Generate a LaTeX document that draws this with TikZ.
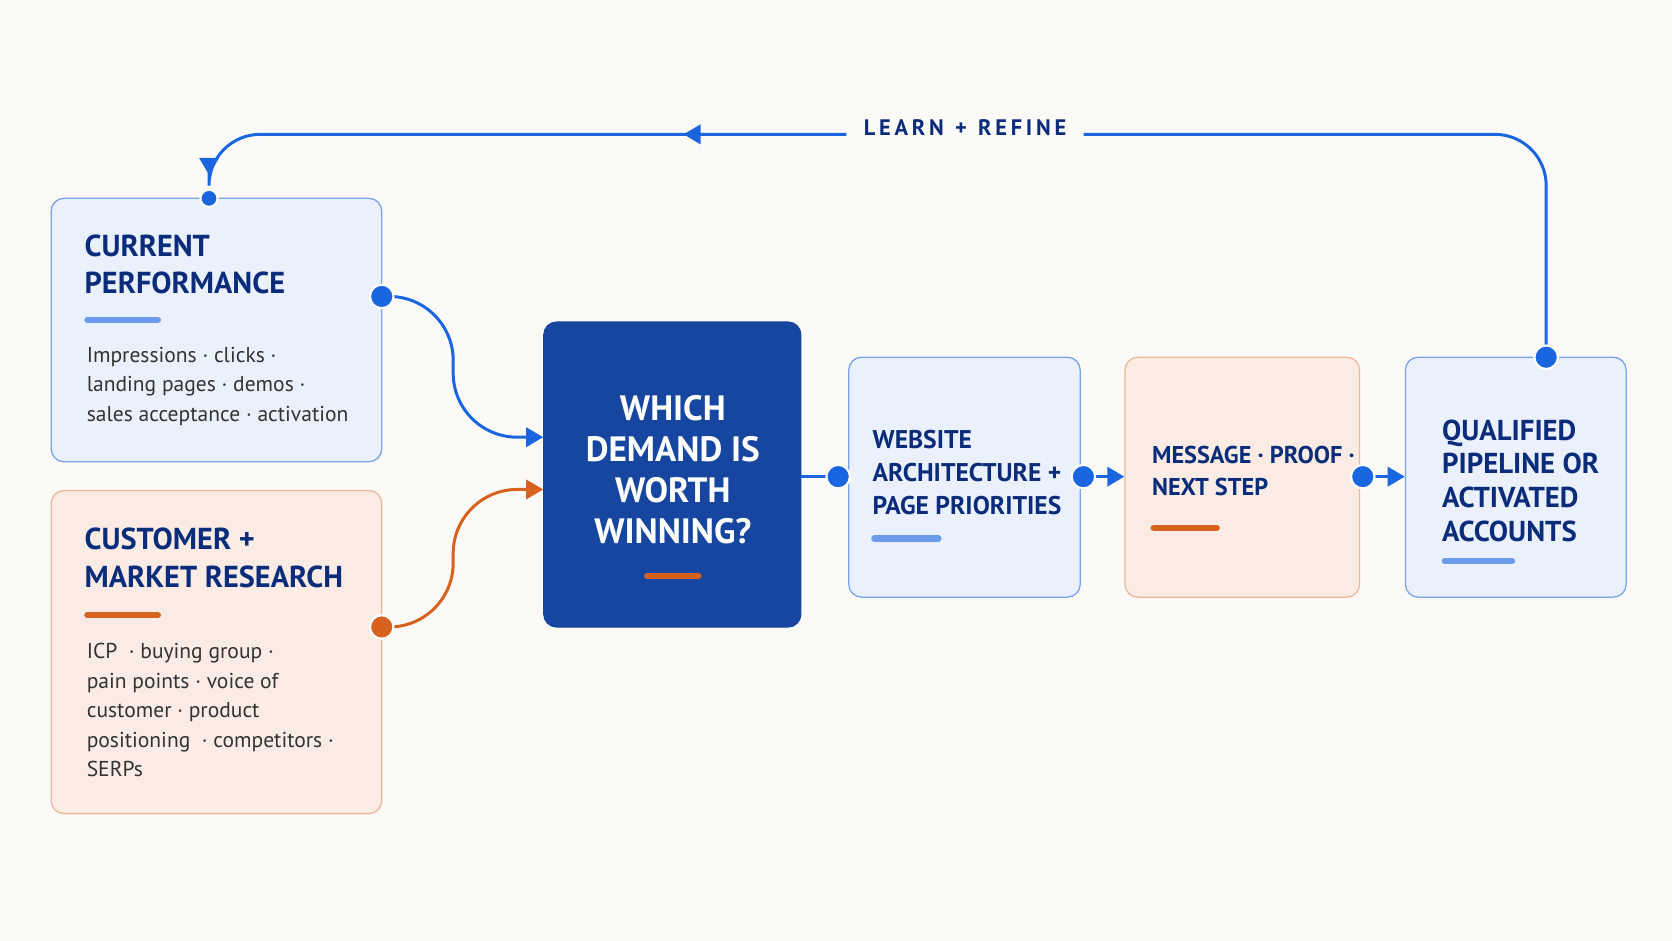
\documentclass[tikz,border=0pt]{standalone}
\usepackage{fontspec}
\setmainfont{PT Sans}
\usetikzlibrary{arrows.meta}
\definecolor{bgcolor}{HTML}{FCFAF6}
\definecolor{flowcolor}{HTML}{1A66E0}
\definecolor{headcolor}{HTML}{0B2C7A}
\definecolor{demandcolor}{HTML}{1646A0}
\definecolor{researchcolor}{HTML}{D6621E}
\colorlet{bluefill}{flowcolor!9}
\colorlet{blueborder}{flowcolor!60}
\colorlet{orangefill}{researchcolor!12}
\colorlet{orangeborder}{researchcolor!45}
\colorlet{bodycolor}{black!80}
\tikzset{boxbase/.style 2 args={shape=rectangle, rounded corners=6pt, semithick, minimum width=#1, minimum height=#2, inner sep=0pt},%
    bluebox/.style 2 args={boxbase={#1}{#2}, fill=bluefill, draw=blueborder},%
    orangebox/.style 2 args={boxbase={#1}{#2}, fill=orangefill, draw=orangeborder},%
    demandbox/.style 2 args={boxbase={#1}{#2}, fill=demandcolor, draw=demandcolor},%
    head/.style={anchor=north west, inner sep=0pt, align=left, text=headcolor, font=\bfseries},%
    body/.style={anchor=north west, inner sep=0pt, align=left, text=bodycolor, font=\fontsize{10.1}{13.8}\selectfont},%
    bar/.style={line width=3pt, line cap=round},%
    flow/.style={line width=1.4pt, color=flowcolor, rounded corners=14pt},%
    dot/.style={fill=#1, draw=white, line width=1pt}%
}
\begin{document}
\begin{tikzpicture}[x=0.5pt, y=-0.5pt, >={Triangle[length=8pt,width=9pt]}]
    \fill[bgcolor] (0,0) rectangle (1568,882);
    \useasboundingbox (0,0) rectangle (1568,882);
    \begin{scope} %draw boxes
        \foreach \nodename/\nodetype/\xpos/\ypos/\boxw/\boxh in {%
                perf/bluebox/203/309.5/155pt/123.5pt,
                research/orangebox/203/611.5/155pt/151.5pt,
                demand/demandbox/630.5/445/120.5pt/143pt,
                site/bluebox/904.5/447.5/108.5pt/112.5pt,
                message/orangebox/1165/447.5/110pt/112.5pt,
                pipeline/bluebox/1421.5/447.5/103.5pt/112.5pt
            } \node[\nodetype={\boxw}{\boxh}] (\nodename) at (\xpos, \ypos) {};
    \end{scope}
    \begin{scope} %add texts
        \node[head, font=\bfseries\fontsize{14.2}{17.5}\selectfont] (perfhead) at (79,220) {CURRENT\\PERFORMANCE};
        \node[body] (perfbody) at (81,325) {Impressions · clicks ·\\landing pages · demos ·\\sales acceptance · activation};
        \node[head, font=\bfseries\fontsize{14.2}{17.5}\selectfont] (researchhead) at (79,495) {CUSTOMER +\\MARKET RESEARCH};
        \node[body] (researchbody) at (81,603) {ICP \ · buying group ·\\pain points · voice of\\customer · product\\positioning \ · competitors ·\\SERPs};
        \node[head, text=white, align=center, anchor=north, font=\bfseries\fontsize{16.5}{19.3}\selectfont] (demandhead) at (631,370) {WHICH\\DEMAND IS\\WORTH\\WINNING?};
        \node[head, font=\bfseries\fontsize{12}{15.5}\selectfont] (sitehead) at (818,403) {WEBSITE\\ARCHITECTURE +\\PAGE PRIORITIES};
        \node[head, font=\bfseries\fontsize{11.4}{15}\selectfont] (messagehead) at (1080,418) {MESSAGE · PROOF ·\\NEXT STEP};
        \node[head, font=\bfseries\fontsize{13.5}{15.8}\selectfont] (pipelinehead) at (1352,393) {QUALIFIED\\PIPELINE OR\\ACTIVATED\\ACCOUNTS};
        \node[text=headcolor, font=\bfseries\fontsize{10.5}{13}\selectfont, fill=bgcolor, inner xsep=8pt] (learn) at (905,120) {L\,E\,A\,R\,N \ + \ R\,E\,F\,I\,N\,E};
    \end{scope}
    \begin{scope} %draw bars
        \draw[bar, flowcolor!65] (82,300) -- (148,300);
        \draw[bar, researchcolor] (82,577) -- (148,577);
        \draw[bar, researchcolor] (607,540) -- (655,540);
        \draw[bar, flowcolor!65] (820,505) -- (880,505);
        \draw[bar, researchcolor] (1082,495) -- (1141,495);
        \draw[bar, flowcolor!65] (1355,526) -- (1418,526);
    \end{scope}
    \begin{scope} %draw connections
        \coordinate (perfout) at (358,278);
        \coordinate (researchout) at (358,588);
        \coordinate (demandout) at (786,447);
        \coordinate (siteout) at (1016,447);
        \coordinate (messageout) at (1278,447);
        \coordinate (perfin) at (196,186);
        \coordinate (pipelineout) at (1450,335);
        \draw[flow, ->, rounded corners=30pt] (perfout) -- (425,278) -- (425,410) -- (demand.west |- 0,410);
        \draw[flow, ->, color=researchcolor, rounded corners=30pt] (researchout) -- (425,588) -- (425,459) -- (demand.west |- 0,459);
        \draw[flow] (demand.east |- demandout) -- (demandout);
        \draw[flow, ->] (siteout) -- (message.west |- siteout);
        \draw[flow, ->] (messageout) -- (pipeline.west |- messageout);
        \draw[flow, rounded corners=24pt] (pipelineout) -- (1450,126) -- (learn.east |- 0,126);
        \draw[flow, ->, rounded corners=24pt, shorten >=11pt] (learn.west |- 0,126) -- (196,126) -- (perfin);
        \draw[flow, ->] (700,126) -- (641,126);
        \foreach \dotname/\dotcolor in {perfout/flowcolor, researchout/researchcolor, demandout/flowcolor, siteout/flowcolor, messageout/flowcolor, pipelineout/flowcolor}
            \fill[dot=\dotcolor] (\dotname) circle[radius=11];
        \fill[dot=flowcolor] (perfin) circle[radius=8];
    \end{scope}
\end{tikzpicture}
\end{document}
